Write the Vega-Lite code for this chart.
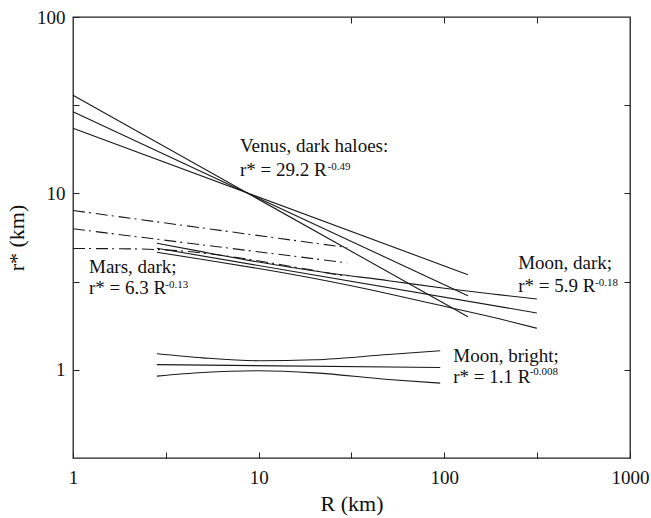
{
  "$schema": "https://vega.github.io/schema/vega-lite/v6.json",
  "width": 557,
  "height": 441,
  "autosize": {"type": "none"},
  "padding": {"left": 73, "top": 17, "right": 21, "bottom": 60},
  "background": "white",
  "config": {
    "view": {"stroke": "#222", "strokeWidth": 1.3},
    "font": "Liberation Serif",
    "axis": {
      "grid": false,
      "domain": false,
      "tickSize": -6,
      "tickColor": "#222",
      "tickWidth": 1,
      "labelFont": "Liberation Serif",
      "labelFontSize": 19,
      "labelColor": "#111",
      "labelFlush": false,
      "labelOverlap": false,
      "titleFont": "Liberation Serif",
      "titleFontSize": 22,
      "titleFontWeight": "normal",
      "titleColor": "#111"
    }
  },
  "datasets": {
    "lines": [
      {"curve": "VA", "body": "Venus", "R": 1, "r": 23.4},
      {"curve": "VA", "body": "Venus", "R": 134, "r": 3.46},
      {"curve": "VB", "body": "Venus", "R": 1, "r": 29.0},
      {"curve": "VB", "body": "Venus", "R": 134, "r": 2.63},
      {"curve": "VC", "body": "Venus", "R": 1, "r": 36.0},
      {"curve": "VC", "body": "Venus", "R": 134, "r": 2.0},

      {"curve": "MaU", "body": "Mars", "R": 1, "r": 8.0},
      {"curve": "MaU", "body": "Mars", "R": 30, "r": 4.93},
      {"curve": "MaM", "body": "Mars", "R": 1, "r": 6.3},
      {"curve": "MaM", "body": "Mars", "R": 30, "r": 4.04},
      {"curve": "MaL", "body": "Mars", "R": 1, "r": 4.87},
      {"curve": "MaL", "body": "Mars", "R": 2, "r": 4.85},
      {"curve": "MaL", "body": "Mars", "R": 4, "r": 4.7},
      {"curve": "MaL", "body": "Mars", "R": 8, "r": 4.3},
      {"curve": "MaL", "body": "Mars", "R": 15, "r": 3.85},
      {"curve": "MaL", "body": "Mars", "R": 30, "r": 3.38},

      {"curve": "MDU", "body": "MoonDark", "R": 2.83, "r": 5.22},
      {"curve": "MDU", "body": "MoonDark", "R": 5, "r": 4.66},
      {"curve": "MDU", "body": "MoonDark", "R": 10, "r": 4.08},
      {"curve": "MDU", "body": "MoonDark", "R": 20, "r": 3.63},
      {"curve": "MDU", "body": "MoonDark", "R": 50, "r": 3.20},
      {"curve": "MDU", "body": "MoonDark", "R": 100, "r": 2.90},
      {"curve": "MDU", "body": "MoonDark", "R": 200, "r": 2.66},
      {"curve": "MDU", "body": "MoonDark", "R": 315, "r": 2.52},
      {"curve": "MDM", "body": "MoonDark", "R": 2.83, "r": 4.89},
      {"curve": "MDM", "body": "MoonDark", "R": 315, "r": 2.10},
      {"curve": "MDL", "body": "MoonDark", "R": 2.83, "r": 4.64},
      {"curve": "MDL", "body": "MoonDark", "R": 5, "r": 4.22},
      {"curve": "MDL", "body": "MoonDark", "R": 10, "r": 3.75},
      {"curve": "MDL", "body": "MoonDark", "R": 20, "r": 3.29},
      {"curve": "MDL", "body": "MoonDark", "R": 50, "r": 2.70},
      {"curve": "MDL", "body": "MoonDark", "R": 100, "r": 2.29},
      {"curve": "MDL", "body": "MoonDark", "R": 200, "r": 1.94},
      {"curve": "MDL", "body": "MoonDark", "R": 315, "r": 1.72},

      {"curve": "MBU", "body": "MoonBright", "R": 2.83, "r": 1.233},
      {"curve": "MBU", "body": "MoonBright", "R": 5, "r": 1.169},
      {"curve": "MBU", "body": "MoonBright", "R": 10, "r": 1.126},
      {"curve": "MBU", "body": "MoonBright", "R": 20, "r": 1.14},
      {"curve": "MBU", "body": "MoonBright", "R": 50, "r": 1.222},
      {"curve": "MBU", "body": "MoonBright", "R": 95, "r": 1.282},
      {"curve": "MBM", "body": "MoonBright", "R": 2.83, "r": 1.07},
      {"curve": "MBM", "body": "MoonBright", "R": 95, "r": 1.03},
      {"curve": "MBL", "body": "MoonBright", "R": 2.83, "r": 0.921},
      {"curve": "MBL", "body": "MoonBright", "R": 5, "r": 0.965},
      {"curve": "MBL", "body": "MoonBright", "R": 10, "r": 0.987},
      {"curve": "MBL", "body": "MoonBright", "R": 20, "r": 0.961},
      {"curve": "MBL", "body": "MoonBright", "R": 50, "r": 0.881},
      {"curve": "MBL", "body": "MoonBright", "R": 95, "r": 0.840}
    ],
    "labels": [
      {"t": "Venus, dark haloes:", "R": 7.93, "r": 17.1, "k": "main"},
      {"t": "r* = 29.2 R", "R": 7.93, "r": 12.5, "k": "main"},
      {"t": "-0.49", "R": 23.5, "r": 13.5, "k": "sup"},
      {"t": "Mars, dark;", "R": 1.22, "r": 3.52, "k": "main"},
      {"t": "r* = 6.3 R", "R": 1.22, "r": 2.69, "k": "main"},
      {"t": "-0.13", "R": 3.14, "r": 2.91, "k": "sup"},
      {"t": "Moon, dark;", "R": 250, "r": 3.73, "k": "main"},
      {"t": "r* = 5.9 R", "R": 250, "r": 2.75, "k": "main"},
      {"t": "-0.18", "R": 648, "r": 3.0, "k": "sup"},
      {"t": "Moon, bright;", "R": 111.7, "r": 1.11, "k": "main"},
      {"t": "r* = 1.1 R", "R": 111.7, "r": 0.84, "k": "main"},
      {"t": "-0.008", "R": 288, "r": 0.933, "k": "sup"}
    ]
  },
  "layer": [
    {
      "data": {"name": "lines"},
      "transform": [{"filter": "datum.body != 'Mars'"}],
      "mark": {"type": "line", "color": "#1a1a1a", "strokeWidth": 1.1, "interpolate": "monotone"},
      "encoding": {
        "x": {"field": "R", "type": "quantitative",
              "scale": {"type": "log", "domain": [1, 1000], "nice": false},
              "axis": {"orient": "bottom", "title": "R (km)", "values": [1, 3.162, 10, 31.62, 100, 316.2, 1000],
                       "labelExpr": "indexof([1,10,100,1000], datum.value) >= 0 ? format(datum.value, 'd') : ''",
                       "labelPadding": 16, "titlePadding": 6}},
        "y": {"field": "r", "type": "quantitative",
              "scale": {"type": "log", "domain": [0.3162, 100], "nice": false},
              "axis": {"orient": "left", "title": "r* (km)", "values": [1, 3.162, 10, 31.62, 100],
                       "labelExpr": "indexof([1,10,100], datum.value) >= 0 ? format(datum.value, 'd') : ''",
                       "labelPadding": 14, "titlePadding": 8}},
        "detail": {"field": "curve", "type": "nominal"}
      }
    },
    {
      "data": {"name": "lines"},
      "transform": [{"filter": "datum.body == 'Mars'"}],
      "mark": {"type": "line", "color": "#1a1a1a", "strokeWidth": 1.1, "strokeDash": [12, 4, 2, 5], "interpolate": "monotone"},
      "encoding": {
        "x": {"field": "R", "type": "quantitative",
              "scale": {"type": "log", "domain": [1, 1000], "nice": false},
              "axis": {"orient": "top", "title": null, "labels": false, "values": [31.62, 100, 316.2]}},
        "y": {"field": "r", "type": "quantitative",
              "scale": {"type": "log", "domain": [0.3162, 100], "nice": false},
              "axis": {"orient": "right", "title": null, "labels": false, "values": [1, 3.162, 10, 31.62]}},
        "detail": {"field": "curve", "type": "nominal"}
      }
    },
    {
      "data": {"name": "labels"},
      "transform": [{"filter": "datum.k == 'main'"}],
      "mark": {"type": "text", "align": "left", "baseline": "alphabetic", "font": "Liberation Serif", "fontSize": 19, "color": "#111"},
      "encoding": {
        "x": {"field": "R", "type": "quantitative", "scale": {"type": "log", "domain": [1, 1000], "nice": false}, "axis": null},
        "y": {"field": "r", "type": "quantitative", "scale": {"type": "log", "domain": [0.3162, 100], "nice": false}, "axis": null},
        "text": {"field": "t", "type": "nominal"}
      }
    },
    {
      "data": {"name": "labels"},
      "transform": [{"filter": "datum.k == 'sup'"}],
      "mark": {"type": "text", "align": "left", "baseline": "alphabetic", "font": "Liberation Serif", "fontSize": 11, "color": "#111"},
      "encoding": {
        "x": {"field": "R", "type": "quantitative", "scale": {"type": "log", "domain": [1, 1000], "nice": false}, "axis": null},
        "y": {"field": "r", "type": "quantitative", "scale": {"type": "log", "domain": [0.3162, 100], "nice": false}, "axis": null},
        "text": {"field": "t", "type": "nominal"}
      }
    }
  ],
  "resolve": {"axis": {"x": "independent", "y": "independent"}}
}
